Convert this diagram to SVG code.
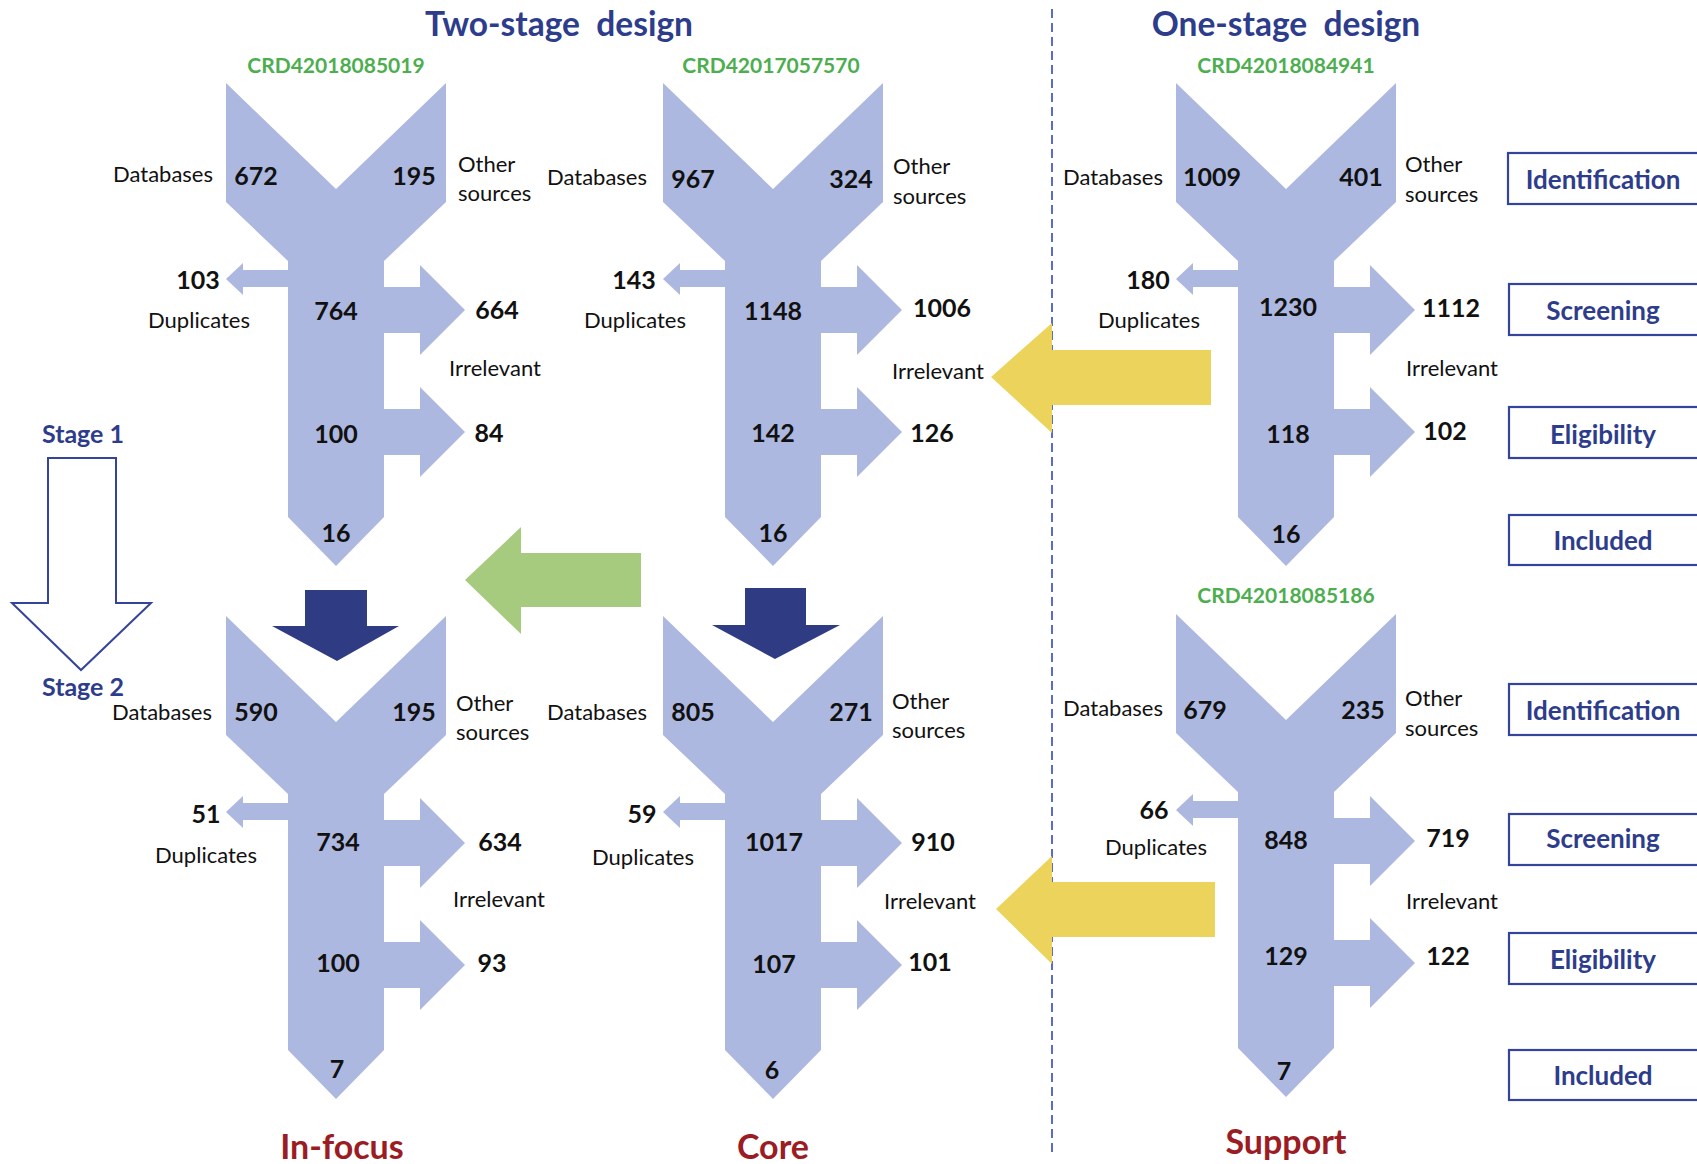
<svg xmlns="http://www.w3.org/2000/svg" xmlns:xlink="http://www.w3.org/1999/xlink" width="1697" height="1164" viewBox="0 0 1697 1164">
<style>
text{font-family:Lato,"Open Sans","Liberation Sans",sans-serif;}
.title{font-size:33.5px;font-weight:bold;fill:#2E3C8C;text-anchor:middle;}
.crd{font-size:21px;font-weight:bold;fill:#4DAE4F;text-anchor:middle;}
.num{font-size:25px;font-weight:bold;fill:#111;text-anchor:middle;}
.lbl{font-size:22px;fill:#111;}
.end{text-anchor:end;}
.mid{text-anchor:middle;}
.grp{font-size:34px;font-weight:bold;fill:#9B1C22;text-anchor:middle;}
.box{fill:#fff;stroke:#34449A;stroke-width:2.2;}
.boxt{font-size:26px;font-weight:bold;fill:#2E3C8C;text-anchor:middle;}
.stage{font-size:25px;font-weight:bold;fill:#2E3C8C;text-anchor:middle;}
.fun{fill:#ADB8E0;}
</style>
<defs>
<path id="funnel" d="M -110 0 L 0 106 L 110 0 L 110 119 L 48 178 L 48 204 L 84 204 L 84 182 L 129 227 L 84 272 L 84 250 L 48 250 L 48 326 L 84 326 L 84 304 L 129 349 L 84 394 L 84 372 L 48 372 L 48 434 L 0 483 L -48 434 L -48 204 L -93 204 L -93 212 L -110 196 L -93 180 L -93 187 L -48 187 L -48 178 L -110 119 Z"/>
</defs>

<g id="titles">
<text class="title" x="559" y="36" xml:space="preserve">Two-stage  design</text>
<text class="title" x="1286" y="36" xml:space="preserve">One-stage  design</text>
</g>

<g id="divider">
<line x1="1052" y1="9" x2="1052" y2="1153" stroke="#4A5CC4" stroke-width="1.8" stroke-dasharray="9 5"/>
</g>

<g id="funnel-infocus-1">
<use xlink:href="#funnel" class="fun" transform="translate(336,83)"/>
<text class="crd" x="336" y="73">CRD42018085019</text>
<text class="lbl end" x="213" y="182">Databases</text>
<text class="num" x="256" y="185">672</text>
<text class="num" x="414" y="185">195</text>
<text class="lbl" x="458" y="172">Other</text>
<text class="lbl" x="458" y="201">sources</text>
<text class="num" x="198" y="289">103</text>
<text class="lbl mid" x="199" y="328">Duplicates</text>
<text class="num" x="336" y="320">764</text>
<text class="num" x="497" y="319">664</text>
<text class="lbl mid" x="495" y="376">Irrelevant</text>
<text class="num" x="336" y="443">100</text>
<text class="num" x="489" y="442">84</text>
<text class="num" x="336" y="542">16</text>
</g>

<g id="funnel-core-1">
<use xlink:href="#funnel" class="fun" transform="translate(773,83)"/>
<text class="crd" x="771" y="73">CRD42017057570</text>
<text class="lbl end" x="647" y="185">Databases</text>
<text class="num" x="693" y="188">967</text>
<text class="num" x="851" y="188">324</text>
<text class="lbl" x="893" y="174">Other</text>
<text class="lbl" x="893" y="204">sources</text>
<text class="num" x="634" y="289">143</text>
<text class="lbl mid" x="635" y="328">Duplicates</text>
<text class="num" x="773" y="320">1148</text>
<text class="num" x="942" y="317">1006</text>
<text class="lbl mid" x="938" y="379">Irrelevant</text>
<text class="num" x="773" y="442">142</text>
<text class="num" x="932" y="442">126</text>
<text class="num" x="773" y="542">16</text>
</g>

<g id="funnel-support-1">
<use xlink:href="#funnel" class="fun" transform="translate(1286,83)"/>
<text class="crd" x="1286" y="73">CRD42018084941</text>
<text class="lbl end" x="1163" y="185">Databases</text>
<text class="num" x="1212" y="186">1009</text>
<text class="num" x="1361" y="186">401</text>
<text class="lbl" x="1405" y="172">Other</text>
<text class="lbl" x="1405" y="202">sources</text>
<text class="num" x="1148" y="289">180</text>
<text class="lbl mid" x="1149" y="328">Duplicates</text>
<text class="num" x="1288" y="316">1230</text>
<text class="num" x="1451" y="317">1112</text>
<text class="lbl mid" x="1452" y="376">Irrelevant</text>
<text class="num" x="1288" y="443">118</text>
<text class="num" x="1445" y="440">102</text>
<text class="num" x="1286" y="543">16</text>
</g>

<g id="funnel-infocus-2">
<use xlink:href="#funnel" class="fun" transform="translate(336,616)"/>
<text class="lbl end" x="212" y="720">Databases</text>
<text class="num" x="256" y="721">590</text>
<text class="num" x="414" y="721">195</text>
<text class="lbl" x="456" y="711">Other</text>
<text class="lbl" x="456" y="740">sources</text>
<text class="num" x="206" y="823">51</text>
<text class="lbl mid" x="206" y="863">Duplicates</text>
<text class="num" x="338" y="851">734</text>
<text class="num" x="500" y="851">634</text>
<text class="lbl mid" x="499" y="907">Irrelevant</text>
<text class="num" x="338" y="972">100</text>
<text class="num" x="492" y="972">93</text>
<text class="num" x="337" y="1078">7</text>
</g>

<g id="funnel-core-2">
<use xlink:href="#funnel" class="fun" transform="translate(773,616)"/>
<text class="lbl end" x="647" y="720">Databases</text>
<text class="num" x="693" y="721">805</text>
<text class="num" x="851" y="721">271</text>
<text class="lbl" x="892" y="709">Other</text>
<text class="lbl" x="892" y="738">sources</text>
<text class="num" x="642" y="823">59</text>
<text class="lbl mid" x="643" y="865">Duplicates</text>
<text class="num" x="774" y="851">1017</text>
<text class="num" x="933" y="851">910</text>
<text class="lbl mid" x="930" y="909">Irrelevant</text>
<text class="num" x="774" y="973">107</text>
<text class="num" x="930" y="971">101</text>
<text class="num" x="772" y="1079">6</text>
</g>

<g id="funnel-support-2">
<use xlink:href="#funnel" class="fun" transform="translate(1286,614)"/>
<text class="crd" x="1286" y="603">CRD42018085186</text>
<text class="lbl end" x="1163" y="716">Databases</text>
<text class="num" x="1205" y="719">679</text>
<text class="num" x="1363" y="719">235</text>
<text class="lbl" x="1405" y="706">Other</text>
<text class="lbl" x="1405" y="736">sources</text>
<text class="num" x="1154" y="819">66</text>
<text class="lbl mid" x="1156" y="855">Duplicates</text>
<text class="num" x="1286" y="849">848</text>
<text class="num" x="1448" y="847">719</text>
<text class="lbl mid" x="1452" y="909">Irrelevant</text>
<text class="num" x="1286" y="965">129</text>
<text class="num" x="1448" y="965">122</text>
<text class="num" x="1284" y="1080">7</text>
</g>

<g id="connectors">
<path d="M 305 590 L 367 590 L 367 626 L 399 626 L 337 661 L 272 626 L 305 626 Z" fill="#2F3C84"/>
<path d="M 745 588 L 806 588 L 806 625 L 840 625 L 775 659 L 712 625 L 745 625 Z" fill="#2F3C84"/>
<path d="M 641 553 L 641 607 L 521 607 L 521 634 L 465 580 L 521 527 L 521 553 Z" fill="#A6CB7E"/>
<path d="M 1211 350 L 1211 405 L 1052 405 L 1052 433 L 991 377 L 1052 323 L 1052 350 Z" fill="#ECD45C"/>
<path d="M 1215 882 L 1215 937 L 1052 937 L 1052 964 L 996 909 L 1052 856 L 1052 882 Z" fill="#ECD45C"/>
</g>

<g id="stage-arrow">
<path d="M 48 458 L 116 458 L 116 603 L 151 603 L 81 670 L 12 603 L 48 603 Z" fill="#fff" stroke="#34449A" stroke-width="2"/>
<text class="stage" x="83" y="443">Stage 1</text>
<text class="stage" x="83" y="696">Stage 2</text>
</g>

<g id="phase-boxes">
<rect class="box" x="1508" y="153" width="200" height="51"/>
<text class="boxt" x="1603" y="189">Identification</text>
<rect class="box" x="1509" y="284" width="200" height="51"/>
<text class="boxt" x="1603" y="320">Screening</text>
<rect class="box" x="1509" y="407" width="200" height="51"/>
<text class="boxt" x="1603" y="444">Eligibility</text>
<rect class="box" x="1509" y="515" width="200" height="50"/>
<text class="boxt" x="1603" y="550">Included</text>
<rect class="box" x="1509" y="684" width="200" height="51"/>
<text class="boxt" x="1603" y="720">Identification</text>
<rect class="box" x="1509" y="814" width="200" height="51"/>
<text class="boxt" x="1603" y="848">Screening</text>
<rect class="box" x="1509" y="933" width="200" height="51"/>
<text class="boxt" x="1603" y="969">Eligibility</text>
<rect class="box" x="1509" y="1050" width="200" height="50"/>
<text class="boxt" x="1603" y="1085">Included</text>
</g>

<g id="group-labels">
<text class="grp" x="342" y="1159">In-focus</text>
<text class="grp" x="773" y="1159">Core</text>
<text class="grp" x="1286" y="1154">Support</text>
</g>
</svg>
